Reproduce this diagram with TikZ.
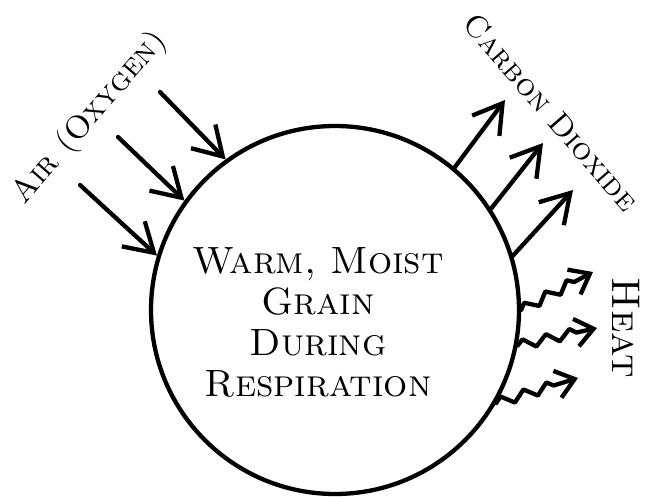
\documentclass[tikz,border=0pt]{standalone}
\usetikzlibrary{arrows.meta,decorations.pathmorphing}

\begin{document}
\begin{tikzpicture}[x=1pt,y=-1pt,line width=4.3pt,line cap=round,line join=round,
  hand/.style={font=\fontsize{32}{38}\selectfont\scshape,inner sep=0pt},
  gas/.style={-{Straight Barb[length=28pt,width=34pt]}},
  warmth/.style={-{Straight Barb[length=18pt,width=28pt]},decorate,
    decoration={zigzag,segment length=24pt,amplitude=5pt,post length=14pt}}]
\useasboundingbox (0,0) rectangle (646,497);
\node[circle,draw,minimum size=368pt,inner sep=0pt] (grain) at (335,310) {};
\node[hand,font=\fontsize{38}{41}\selectfont\scshape,align=center] (desc) at (318,322)
  {Warm, Moist\\Grain\\During\\Respiration};
% air coming in
\coordinate (air1) at (160,92);
\coordinate (air2) at (118,137);
\coordinate (air3) at (80,185);
\draw[gas] (air1)--(grain.126);
\draw[gas] (air2)--(grain.144);
\draw[gas] (air3)--(grain.163);
\node[hand,rotate=49] (air) at (90,118) {Air (Oxygen)};
% carbon dioxide going out
\coordinate (co1) at (505,100);
\coordinate (co2) at (543,143);
\coordinate (co3) at (573,190);
\draw[gas] (grain.50)--(co1);
\draw[gas] (grain.33)--(co2);
\draw[gas] (grain.17)--(co3);
\node[hand,font=\fontsize{31}{36}\selectfont\scshape,rotate=-49] (co) at (551,112) {Carbon Dioxide};
% heat
\coordinate (heat1) at (593,272);
\coordinate (heat2) at (597,328);
\coordinate (heat3) at (578,378);
\draw[warmth] (grain.0)--(heat1);
\draw[warmth] (grain.-11)--(heat2);
\draw[warmth] (grain.-30)--(heat3);
\node[hand,font=\fontsize{40}{44}\selectfont\scshape,rotate=-90] (heat) at (626,328) {Heat};
\end{tikzpicture}
\end{document}
